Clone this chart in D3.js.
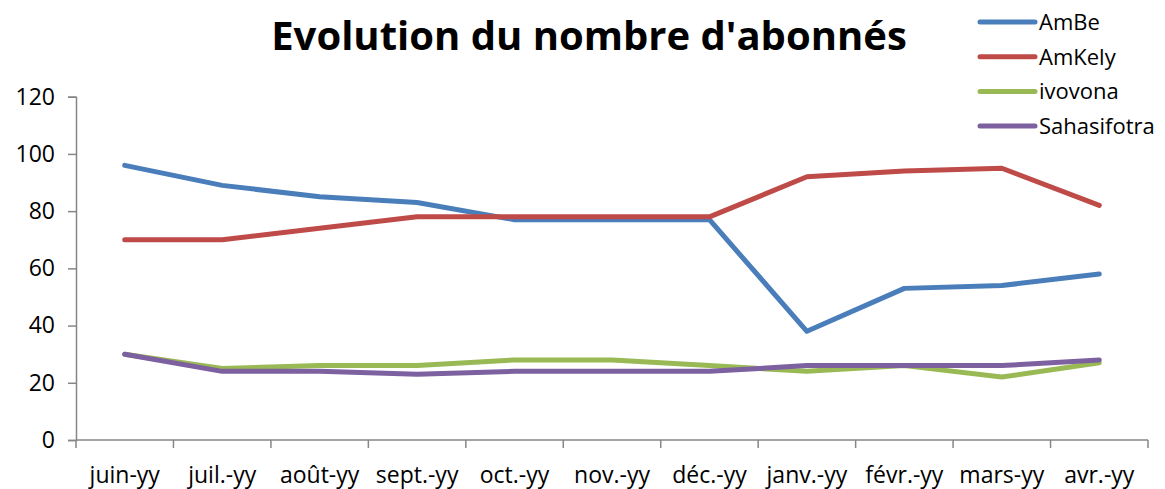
<!DOCTYPE html>
<html>
<head>
<meta charset="utf-8">
<script src="https://cdn.jsdelivr.net/npm/d3@7"></script>
<style>
  body { margin: 0; background: #fff; }
  text { font-family: "Open Sans", Lato, sans-serif; fill: #000; }
</style>
</head>
<body>
<div id="chart"></div>
<script>
const months = ["juin-yy", "juil.-yy", "août-yy", "sept.-yy", "oct.-yy", "nov.-yy", "déc.-yy", "janv.-yy", "févr.-yy", "mars-yy", "avr.-yy"];
const seriesNames = ["AmBe", "AmKely", "ivovona", "Sahasifotra"];
const amBe = [96, 89, 85, 83, 77, 77, 77, 38, 53, 54, 58];
const amKely = [70, 70, 74, 78, 78, 78, 78, 92, 94, 95, 82];
const ivovona = [30, 25, 26, 26, 28, 28, 26, 24, 26, 22, 27];
const sahasifotra = [30, 24, 24, 23, 24, 24, 24, 26, 26, 26, 28];
const yTicks = [0, 20, 40, 60, 80, 100, 120];

const colors = ["#4a7ebb", "#be4b48", "#98b954", "#7d60a0"];
const series = [amBe, amKely, ivovona, sahasifotra].map((v, i) => ({name: seriesNames[i], values: v, color: colors[i]}));

const width = 1165, height = 489;
const svg = d3.select('#chart').append('svg')
    .attr('width', width)
    .attr('height', height);

// plot area
const plotLeft = 76, plotRight = 1148, plotTop = 96.7, plotBottom = 440;

const x = d3.scaleBand().domain(months).range([plotLeft, plotRight]);
const y = d3.scaleLinear().domain([0, 120]).range([plotBottom, plotTop]);

// y axis
const yAxis = svg.append('g')
    .attr('transform', `translate(${plotLeft},0)`)
    .call(d3.axisLeft(y).tickValues(yTicks).tickSize(8).tickPadding(13));
yAxis.selectAll('line, path').attr('stroke', '#868686').attr('stroke-width', 1.5);
yAxis.selectAll('text').style('font-size', '23px').attr('font-family', null);

// x axis, ticks on band boundaries
const xAxis = svg.append('g')
    .attr('transform', `translate(0,${plotBottom})`);
xAxis.append('line')
    .attr('x1', plotLeft).attr('x2', plotRight)
    .attr('stroke', '#868686').attr('stroke-width', 1.5);
const bounds = d3.range(months.length + 1).map(i => plotLeft + i * x.bandwidth());
xAxis.selectAll('.tk').data(bounds).enter().append('line')
    .attr('x1', d => d).attr('x2', d => d)
    .attr('y1', 0).attr('y2', 8)
    .attr('stroke', '#868686').attr('stroke-width', 1.5);
xAxis.selectAll('.lbl').data(months).enter().append('text')
    .attr('x', d => x(d) + x.bandwidth() / 2)
    .attr('y', 43)
    .attr('text-anchor', 'middle')
    .style('font-size', '23px')
    .text(d => d);

// lines
const line = d3.line()
    .x((d, i) => x(months[i]) + x.bandwidth() / 2)
    .y(d => y(d));

svg.selectAll('.series').data(series).enter().append('path')
    .attr('d', d => line(d.values))
    .attr('fill', 'none')
    .attr('stroke', d => d.color)
    .attr('stroke-width', 5)
    .attr('stroke-linejoin', 'round')
    .attr('stroke-linecap', 'round');

// title
svg.append('text')
    .attr('x', 589)
    .attr('y', 49.5)
    .attr('text-anchor', 'middle')
    .style('font-size', '40px')
    .style('font-weight', 'bold')
    .text("Evolution du nombre d'abonnés");

// legend
const legend = svg.append('g').attr('transform', 'translate(980,22)');
const items = legend.selectAll('g').data(series).enter().append('g')
    .attr('transform', (d, i) => `translate(0,${i * 34.7})`);
items.append('line')
    .attr('x1', 0).attr('x2', 55)
    .attr('stroke', d => d.color)
    .attr('stroke-width', 5)
    .attr('stroke-linecap', 'round');
items.append('text')
    .attr('x', 59)
    .attr('dy', '0.36em')
    .style('font-size', '22px')
    .text(d => d.name);
</script>
</body>
</html>
